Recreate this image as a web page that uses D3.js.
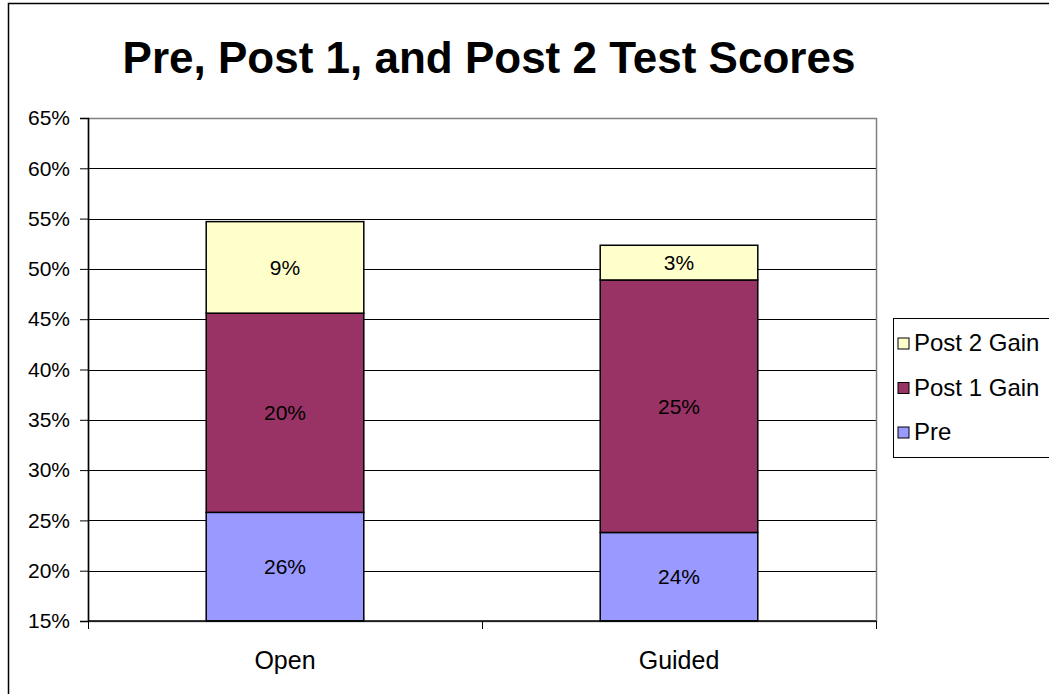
<!DOCTYPE html>
<html>
<head>
<meta charset="utf-8">
<script src="https://cdn.jsdelivr.net/npm/d3@7"></script>
<style>
  body { margin: 0; background: #fff; }
  svg { font-family: "Liberation Sans", Arial, sans-serif; }
</style>
</head>
<body>
<div id="chart"></div>
<script>
// the data (fractions)
const categories = ["Open", "Guided"];
const seriesNames = ["Pre", "Post 1 Gain", "Post 2 Gain"];
const pre = [0.258, 0.238];
const post1Gain = [0.198, 0.251];
const post2Gain = [0.091, 0.0345];
const yTicks = [0.15, 0.20, 0.25, 0.30, 0.35, 0.40, 0.45, 0.50, 0.55, 0.60, 0.65];
const colors = ["#9999FF", "#993366", "#FFFFCC"];

const W = 1049, H = 694;
const margin = {top: 118, left: 88, right: W - 876, bottom: H - 621};
const width = W - margin.left - margin.right,
      height = H - margin.top - margin.bottom;

const svg = d3.select("#chart").append("svg")
    .attr("width", W)
    .attr("height", H);

// outer chart frame (only top and left show)
svg.append("rect")
    .attr("x", 8.5).attr("y", 3.5)
    .attr("width", W + 10).attr("height", H + 10)
    .attr("fill", "none")
    .attr("stroke", "#000")
    .attr("stroke-width", 1.5);

// title
svg.append("text")
    .attr("x", 489)
    .attr("y", 73)
    .attr("text-anchor", "middle")
    .attr("font-weight", "bold")
    .attr("font-size", 44)
    .text("Pre, Post 1, and Post 2 Test Scores");

const g = svg.append("g")
    .attr("transform", "translate(" + margin.left + "," + margin.top + ")");

// scales
const x = d3.scaleBand()
    .domain(categories)
    .range([0, width])
    .padding(0);

const y = d3.scaleLinear()
    .domain([0.15, 0.65])
    .range([height, 0]);

// gridlines
g.selectAll(".grid")
    .data(yTicks)
    .enter()
    .append("line")
        .attr("x1", 0)
        .attr("x2", width)
        .attr("y1", d => Math.round(y(d)) + 0.5)
        .attr("y2", d => Math.round(y(d)) + 0.5)
        .attr("stroke", "#000")
        .attr("stroke-width", 1);

// plot area border (top/right grey)
g.append("rect")
    .attr("x", 0.5).attr("y", 0.5)
    .attr("width", width).attr("height", height)
    .attr("fill", "none")
    .attr("stroke", "#808080")
    .attr("stroke-width", 1.5);

// stack the series
const rows = categories.map((c, i) => ({
    cat: c,
    "Pre": pre[i],
    "Post 1 Gain": post1Gain[i],
    "Post 2 Gain": post2Gain[i]
}));
const stacked = d3.stack().keys(seriesNames)(rows);

const barWidth = x.bandwidth() * 0.4;

const layers = g.selectAll(".layer")
    .data(stacked)
    .enter()
    .append("g")
        .attr("fill", (d, i) => colors[i]);

layers.selectAll("rect")
    .data(d => d)
    .enter()
    .append("rect")
        .attr("x", d => x(d.data.cat) + (x.bandwidth() - barWidth) / 2)
        .attr("y", d => y(d[1]))
        .attr("width", barWidth)
        .attr("height", d => y(Math.max(d[0], 0.15)) - y(d[1]))
        .attr("stroke", "#000")
        .attr("stroke-width", 1.5);

// data labels
const fmt = d3.format(".0%");
layers.selectAll("text")
    .data(d => d)
    .enter()
    .append("text")
        .attr("x", d => x(d.data.cat) + x.bandwidth() / 2)
        .attr("y", d => (y(Math.max(d[0], 0.15)) + y(d[1])) / 2)
        .attr("dy", "0.35em")
        .attr("text-anchor", "middle")
        .attr("font-size", 21)
        .attr("fill", "#000")
        .text(d => fmt(d[1] - d[0]));

// y axis
const yAxis = g.append("g")
    .call(d3.axisLeft(y).tickValues(yTicks).tickFormat(d3.format(".0%")).tickSize(8).tickPadding(10));
yAxis.select(".domain").attr("stroke", "#000").attr("stroke-width", 1.5);
yAxis.selectAll(".tick line").attr("stroke", "#000");
yAxis.selectAll("text").attr("font-size", 21).attr("fill", "#000").attr("font-family", "Liberation Sans, Arial, sans-serif");

// x axis: ticks sit between categories
const xAxis = g.append("g")
    .attr("transform", "translate(0," + height + ")");
xAxis.append("line")
    .attr("x1", 0).attr("x2", width)
    .attr("stroke", "#000").attr("stroke-width", 1.5);
xAxis.selectAll(".tk")
    .data([0].concat(categories.map(c => x(c) + x.bandwidth())))
    .enter()
    .append("line")
        .attr("x1", d => Math.round(d) + 0.5)
        .attr("x2", d => Math.round(d) + 0.5)
        .attr("y1", 0).attr("y2", 8)
        .attr("stroke", "#000");
xAxis.selectAll(".lbl")
    .data(categories)
    .enter()
    .append("text")
        .attr("x", d => x(d) + x.bandwidth() / 2)
        .attr("y", 48)
        .attr("text-anchor", "middle")
        .attr("font-size", 25)
        .text(d => d);

// legend
const legend = svg.append("g")
    .attr("transform", "translate(893,318)");
legend.append("rect")
    .attr("x", 0.5).attr("y", 0.5)
    .attr("width", 170).attr("height", 139)
    .attr("fill", "#fff")
    .attr("stroke", "#000")
    .attr("stroke-width", 1);

const legendOrder = seriesNames.slice().reverse();
const items = legend.selectAll(".item")
    .data(legendOrder)
    .enter()
    .append("g")
        .attr("transform", (d, i) => "translate(5," + (25 + i * 44.5) + ")");
items.append("rect")
    .attr("x", 0).attr("y", -5)
    .attr("width", 11).attr("height", 11)
    .attr("fill", d => colors[seriesNames.indexOf(d)])
    .attr("stroke", "#000");
items.append("text")
    .attr("x", 16)
    .attr("y", 0)
    .attr("dy", "0.35em")
    .attr("font-size", 24)
    .text(d => d);
</script>
</body>
</html>
